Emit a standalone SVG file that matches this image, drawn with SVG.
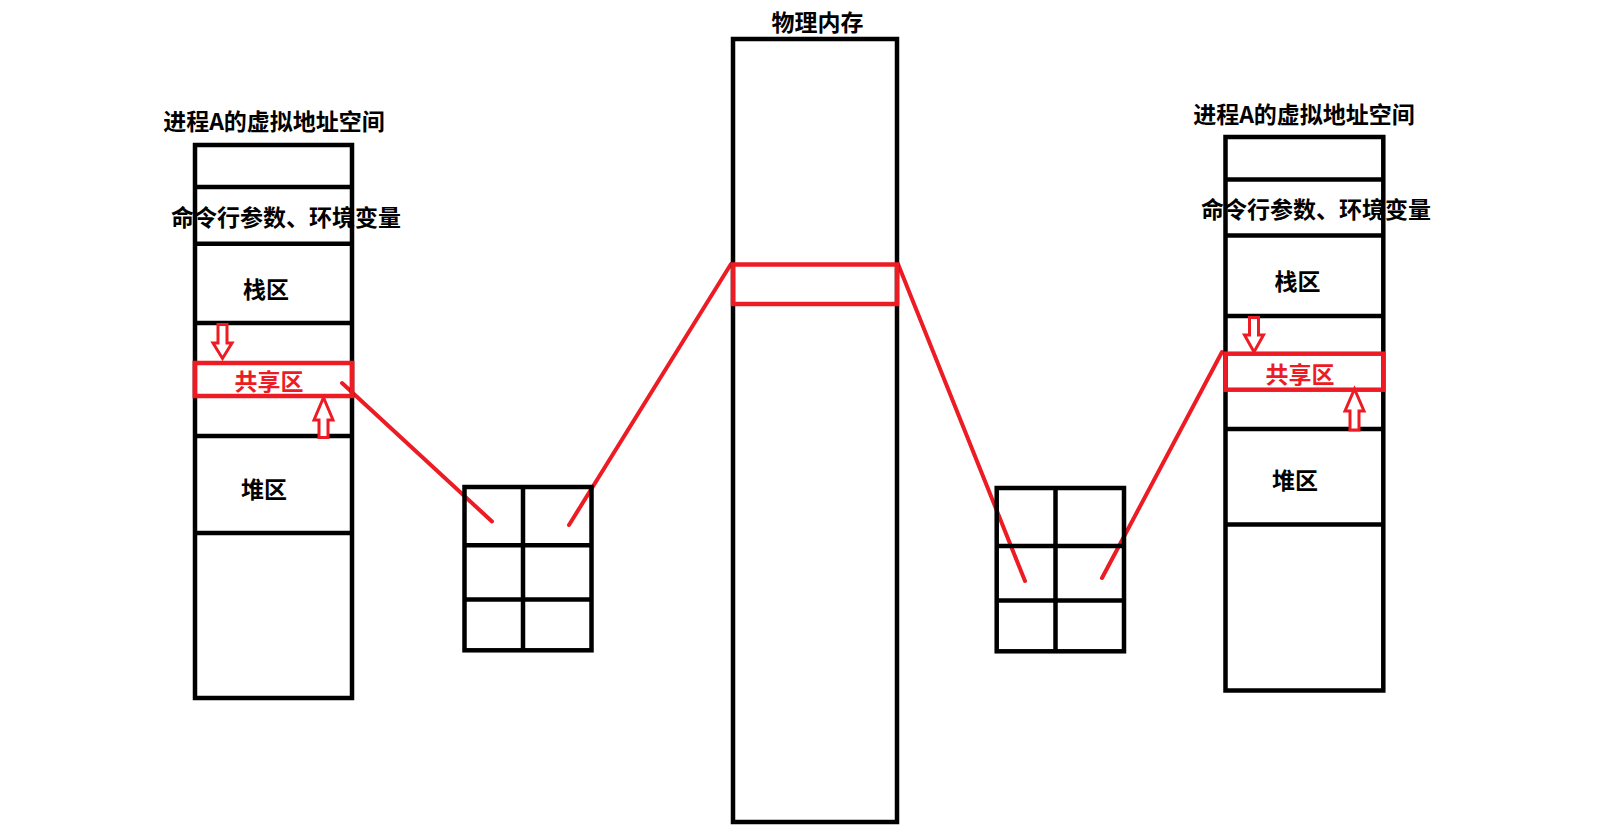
<svg xmlns="http://www.w3.org/2000/svg" width="1602" height="836" viewBox="0 0 1602 836">
<style>
.bk{fill:none;stroke:#000;stroke-width:4.5}
.rd{fill:none;stroke:#ED1C24;stroke-width:4.5}
.arr{fill:#fff;stroke:#ED1C24;stroke-width:3;stroke-linejoin:miter}
.ln{stroke:#ED1C24;stroke-width:4;stroke-linecap:round;fill:none}
text{font-family:"Noto Sans CJK SC","Microsoft YaHei",sans-serif;font-weight:bold;font-size:23px;text-anchor:middle;fill:#000}
.rt{fill:#ED1C24}
</style>
<rect width="1602" height="836" fill="#fff"/>
<g id="connectors">
<line class="ln" x1="342" y1="383" x2="492" y2="521.5"/>
<line class="ln" x1="569" y1="525" x2="731" y2="264"/>
<line class="ln" x1="898" y1="264" x2="1025" y2="581"/>
<line class="ln" x1="1102" y1="578" x2="1222" y2="352"/>
</g>
<g id="left-space">
<text x="274" y="130">进程A的虚拟地址空间</text>
<rect class="bk" x="195" y="145" width="157" height="553"/>
<line class="bk" x1="195" y1="187" x2="352" y2="187"/>
<line class="bk" x1="195" y1="243.7" x2="352" y2="243.7"/>
<line class="bk" x1="195" y1="323" x2="352" y2="323"/>
<line class="bk" x1="195" y1="436" x2="352" y2="436"/>
<line class="bk" x1="195" y1="533" x2="352" y2="533"/>
<text x="286" y="226">命令行参数、环境变量</text>
<text x="266" y="297.6">栈区</text>
<text x="264" y="497.6">堆区</text>
<rect class="rd" x="194.8" y="363" width="157.4" height="33"/>
<text class="rt" x="269" y="390.3">共享区</text>
<polygon class="arr" points="218,324.5 227,324.5 227,343 232,343 222.5,358.5 213,343 218,343"/>
<polygon class="arr" points="319,437.5 328,437.5 328,420 333,420 323.5,397.5 314,420 319,420"/>
</g>
<g id="left-table">
<rect class="bk" x="464.5" y="487" width="127" height="163.3"/>
<line class="bk" x1="523" y1="487" x2="523" y2="650.3"/>
<line class="bk" x1="464.5" y1="545.3" x2="591.5" y2="545.3"/>
<line class="bk" x1="464.5" y1="599.5" x2="591.5" y2="599.5"/>
</g>
<g id="physical-memory">
<text x="817.5" y="31">物理内存</text>
<rect class="bk" x="733" y="39" width="164" height="783"/>
<rect class="rd" x="733" y="264.5" width="164" height="39.5"/>
</g>
<g id="right-table">
<rect class="bk" x="996.7" y="488" width="127.3" height="163.3"/>
<line class="bk" x1="1055.5" y1="488" x2="1055.5" y2="651.3"/>
<line class="bk" x1="996.7" y1="546" x2="1124" y2="546"/>
<line class="bk" x1="996.7" y1="600.5" x2="1124" y2="600.5"/>
</g>
<g id="right-space">
<text x="1304" y="122.8">进程A的虚拟地址空间</text>
<rect class="bk" x="1225.5" y="137" width="157.8" height="553.5"/>
<line class="bk" x1="1225.5" y1="179.5" x2="1383.3" y2="179.5"/>
<line class="bk" x1="1225.5" y1="235.5" x2="1383.3" y2="235.5"/>
<line class="bk" x1="1225.5" y1="316" x2="1383.3" y2="316"/>
<line class="bk" x1="1225.5" y1="429" x2="1383.3" y2="429"/>
<line class="bk" x1="1225.5" y1="524.5" x2="1383.3" y2="524.5"/>
<text x="1316" y="217.6">命令行参数、环境变量</text>
<text x="1297.5" y="289.6">栈区</text>
<text x="1295" y="489">堆区</text>
<rect class="rd" x="1225.5" y="353.7" width="157.8" height="36"/>
<text class="rt" x="1300" y="382.6">共享区</text>
<polygon class="arr" points="1249.5,317.5 1258.5,317.5 1258.5,335 1263.5,335 1254,352 1244.5,335 1249.5,335"/>
<polygon class="arr" points="1350,430 1359,430 1359,411 1364,411 1354.5,389 1345,411 1350,411"/>
</g>
</svg>
